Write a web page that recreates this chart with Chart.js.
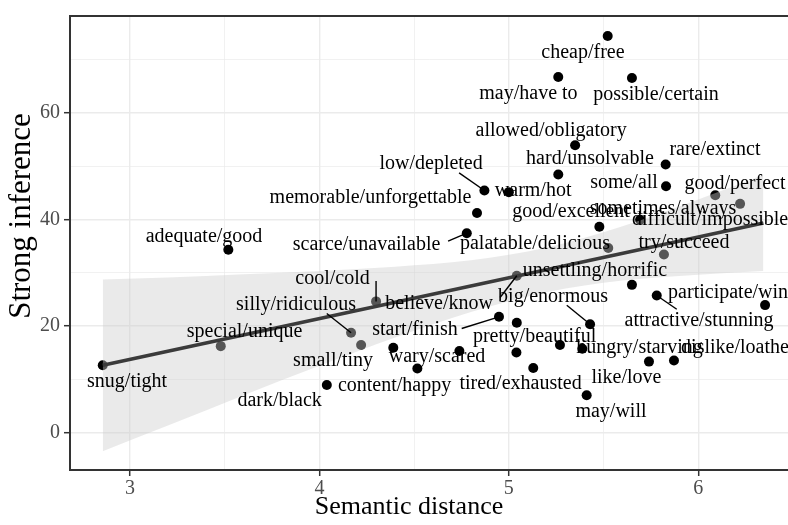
<!DOCTYPE html>
<html><head><meta charset="utf-8">
<script src="https://cdn.jsdelivr.net/npm/chart.js@4.4.1/dist/chart.umd.min.js"></script>
<style>html,body{margin:0;padding:0;background:#fff;overflow:hidden}#wrap{width:788px;height:525px;position:relative}</style>
</head><body><div id="wrap"><canvas id="c" width="788" height="525"></canvas></div>
<script>
// ---- data ----
const pairs = ["cheap/free","may/have to","possible/certain","allowed/obligatory","hard/unsolvable","rare/extinct","some/all","low/depleted","warm/hot","memorable/unforgettable","good/perfect","sometimes/always","good/excellent","difficult/impossible","scarce/unavailable","palatable/delicious","try/succeed","adequate/good","believe/know","unsettling/horrific","cool/cold","attractive/stunning","participate/win","start/finish","pretty/beautiful","big/enormous","hungry/starving","","like/love","dislike/loathe","tired/exhausted","may/will","","","content/happy","wary/scared","dark/black","small/tiny","silly/ridiculous","special/unique","snug/tight"];
const semanticDistance = [5.522,5.261,5.650,5.350,5.261,5.828,5.830,4.871,5.000,4.832,6.090,6.221,5.478,5.693,4.778,5.525,5.819,3.519,5.042,5.650,4.299,5.781,6.353,4.948,5.042,5.429,5.388,5.270,5.740,5.872,5.129,5.411,5.040,4.739,4.517,4.390,4.039,4.220,4.167,3.479,2.856];
const strongInference = [74.4,66.7,66.5,53.9,48.4,50.3,46.2,45.4,45.1,41.2,44.5,42.9,38.6,39.9,37.4,34.6,33.4,34.3,29.4,27.7,24.6,25.7,23.9,21.7,20.6,20.3,15.7,16.4,13.3,13.5,12.1,7.0,15.0,15.3,12.0,15.9,8.9,16.4,18.7,16.2,12.6];
// fitted line and confidence band
const fitX = [2.856, 6.344];
const fitY = [12.6, 39.3];
const bandX = [2.856, 3.2, 3.6, 4.0, 4.4, 4.8, 5.2, 5.6, 6.0, 6.344];
const bandUpper = [28.7, 29.1, 29.7, 30.3, 31.1, 32.3, 34.7, 38.7, 43.7, 48.3];
const bandLower = [-3.5, 1.3, 7.0, 12.5, 17.8, 22.6, 26.3, 28.5, 29.6, 30.3];
// tick labels
const xTickLabels = [3, 4, 5, 6];
const yTickLabels = [0, 20, 40, 60];
const xTitle = "Semantic distance";
const yTitle = "Strong inference";

// ---- label layout (pixel offsets from each point, repelled-label style) ----
const labelOffsets = [[-24.7,17],[-29.8,16.6],[24,16.6],[-24,-14.7],[31.7,-15.7],[49.3,-14.6],[-42,-4],[-53.3,-26.7],[24.3,-1.6],[-106.5,-14.7],[19.7,-11.7],[-77,4.7],[-28.3,-15],[70,0],[-100.2,11.7],[-73.3,-4.3],[20,-11.7],[-24.3,-13.4],[-77.7,27.7],[-37,-14.6],[-43.5,-22.6],[42.3,25],[-37,-12.7],[-84,13.3],[17.8,14],[-37,-27.3],[57.2,-0.6],[0,0],[-22.5,16],[61,-12.6],[-12.7,15.6],[24.3,16.4],[0,0],[0,0],[-22.8,17.7],[43.7,9],[-47.2,16],[-28,16],[-55,-27.7],[23.8,-14.3],[24.3,16]];
const leaderStarts = [null,null,null,null,null,null,null,[-25.3,-17.7],null,null,null,null,null,null,[-18.7,8],null,null,null,[-16.7,21.7],null,[0,-20.3],[20,13.7],null,[-37.3,11.7],null,[-23.3,-19],null,null,null,null,null,null,null,null,null,null,null,null,[-24.3,-19.3],null,null];

const SERIF = "'Liberation Serif', 'Times New Roman', Times, serif";

const labelPlugin = {
  id: 'pairLabels',
  afterDatasetsDraw(chart) {
    const {ctx, scales: {x, y}} = chart;
    ctx.save();
    ctx.strokeStyle = '#000';
    ctx.lineWidth = 1.4;
    pairs.forEach((p, i) => {
      const s = leaderStarts[i];
      if (!p || !s) return;
      const px = x.getPixelForValue(semanticDistance[i]);
      const py = y.getPixelForValue(strongInference[i]);
      ctx.beginPath();
      ctx.moveTo(px + s[0], py + s[1]);
      ctx.lineTo(px, py);
      ctx.stroke();
    });
    ctx.font = '20px ' + SERIF;
    ctx.textAlign = 'center';
    ctx.textBaseline = 'middle';
    ctx.fillStyle = '#000';
    pairs.forEach((p, i) => {
      if (!p) return;
      const px = x.getPixelForValue(semanticDistance[i]);
      const py = y.getPixelForValue(strongInference[i]);
      ctx.fillText(p, px + labelOffsets[i][0], py + labelOffsets[i][1]);
    });
    ctx.restore();
  }
};

const framePlugin = {
  id: 'frameAndTitles',
  afterDraw(chart) {
    const {ctx, chartArea: a} = chart;
    ctx.save();
    ctx.strokeStyle = '#333';
    ctx.lineWidth = 2;
    ctx.beginPath();
    ctx.moveTo(a.left - 1, a.top);
    ctx.lineTo(a.right, a.top);
    ctx.stroke();
    // axis titles
    ctx.fillStyle = '#000';
    ctx.textAlign = 'center';
    ctx.textBaseline = 'middle';
    ctx.font = '26px ' + SERIF;
    ctx.fillText(xTitle, 409, 507);
    ctx.translate(22, 216);
    ctx.rotate(-Math.PI / 2);
    ctx.font = '31px ' + SERIF;
    ctx.fillText(yTitle, 0, 0);
    ctx.restore();
  }
};

const isMajorX = v => xTickLabels.includes(Math.round(v * 1000) / 1000);
const isMajorY = v => yTickLabels.includes(Math.round(v * 1000) / 1000);

new Chart(document.getElementById('c'), {
  type: 'scatter',
  data: {
    datasets: [
      { type: 'line', data: bandX.map((v, i) => ({x: v, y: bandLower[i]})), borderWidth: 0, borderColor: 'rgba(0,0,0,0)', pointRadius: 0, fill: false, order: 2, cubicInterpolationMode: 'monotone' },
      { type: 'line', data: bandX.map((v, i) => ({x: v, y: bandUpper[i]})), borderWidth: 0, borderColor: 'rgba(0,0,0,0)', pointRadius: 0, fill: '-1', backgroundColor: 'rgba(205,205,205,0.42)', order: 2, cubicInterpolationMode: 'monotone' },
      { type: 'line', data: fitX.map((v, i) => ({x: v, y: fitY[i]})), borderColor: '#3b3b3b', borderWidth: 3.5, pointRadius: 0, fill: false, order: 1 },
      { type: 'scatter', data: semanticDistance.map((v, i) => ({x: v, y: strongInference[i]})), backgroundColor: '#000', borderWidth: 0, pointRadius: 5, order: 3 }
    ]
  },
  options: {
    responsive: false,
    animation: false,
    devicePixelRatio: 1,
    events: [],
    layout: { autoPadding: false, padding: { top: 10, right: 0, left: 0, bottom: 0 } },
    plugins: { legend: { display: false }, tooltip: { enabled: false } },
    scales: {
      x: {
        type: 'linear', min: 2.683, max: 6.474,
        afterFit(s) { s.height = 55; },
        ticks: {
          stepSize: 0.5, includeBounds: false, autoSkip: false, maxRotation: 0,
          callback: v => isMajorX(v) ? String(v) : '',
          color: '#4d4d4d', font: { family: SERIF, size: 20 }, padding: 1
        },
        grid: {
          color: '#ebebeb',
          lineWidth: c => (c.tick && isMajorX(c.tick.value)) ? 1.4 : 0.7,
          tickColor: c => (c.tick && isMajorX(c.tick.value)) ? '#333' : 'rgba(0,0,0,0)',
          tickLength: 6, tickWidth: 1.5
        },
        border: { display: true, color: '#333', width: 2 },
        title: { display: false }
      },
      y: {
        type: 'linear', min: -7.04, max: 78.15,
        afterFit(s) { s.width = 70; },
        ticks: {
          stepSize: 10, includeBounds: false, autoSkip: false,
          callback: v => isMajorY(v) ? String(v) : '',
          color: '#4d4d4d', font: { family: SERIF, size: 20 }, padding: 4
        },
        grid: {
          color: '#ebebeb',
          lineWidth: c => (c.tick && isMajorY(c.tick.value)) ? 1.4 : 0.7,
          tickColor: c => (c.tick && isMajorY(c.tick.value)) ? '#333' : 'rgba(0,0,0,0)',
          tickLength: 6, tickWidth: 1.5
        },
        border: { display: true, color: '#333', width: 2 },
        title: { display: false }
      }
    }
  },
  plugins: [labelPlugin, framePlugin]
});
</script>
</body></html>
